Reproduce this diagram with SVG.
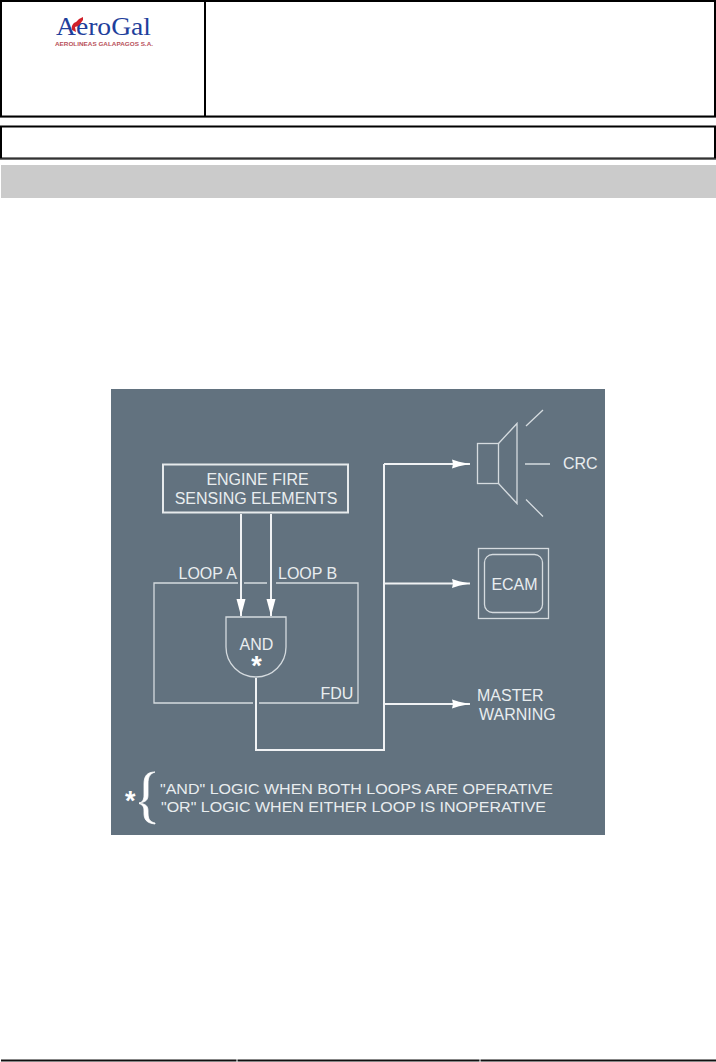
<svg xmlns="http://www.w3.org/2000/svg" width="716" height="1062" viewBox="0 0 716 1062">
<style>
.hdr{fill:none;stroke:#000;stroke-width:2}
.t{font-family:"Liberation Sans",Arial,sans-serif;fill:#e9edef;font-size:16px}
.s{font-family:"Liberation Sans",Arial,sans-serif;fill:#fff;font-weight:bold;font-size:27px}
.b{fill:none;stroke:#d5dbdf;stroke-width:1.300}
.c{fill:none;stroke:#f0f2f4;stroke-width:2}
</style>
<defs>
<marker id="a" markerUnits="userSpaceOnUse" markerWidth="19" markerHeight="10" refX="18" refY="5" orient="auto"><path d="M0 .5L7 2.800L18 5L7 7.200L0 9.500L1 5Z" fill="#fff"/></marker>
<marker id="d" markerUnits="userSpaceOnUse" markerWidth="18" markerHeight="10" refX="17" refY="5" orient="auto"><path d="M0 .5L17 5L0 9.500Z" fill="#fff"/></marker>
</defs>
<rect width="716" height="1062" fill="#fff"/>
<g id="header">
<rect class="hdr" x="1" y="1" width="714" height="115.500"/>
<line x1="205" y1="1" x2="205" y2="117" stroke="#000" stroke-width="2"/>
<line x1="0" y1="117.500" x2="716" y2="117.500" stroke="#666" stroke-width="1"/>
<rect class="hdr" x="1" y="126.500" width="714" height="32"/>
<line x1="0" y1="159" x2="716" y2="159" stroke="#666" stroke-width="1"/>
<rect x="1" y="165" width="715" height="33" fill="#cbcbcb"/>
</g>
<g id="logo">
<text x="56" y="34.500" font-family="Liberation Serif,serif" font-size="26" fill="#1f3f9c" textLength="95" lengthAdjust="spacingAndGlyphs">AeroGal</text>
<path d="M72 30C71 26 73 23 76 22L79 19L83 17L83 20L80 24L78 26L75 27L76 32Z" fill="#d0202a"/>
<text x="55" y="45.500" font-family="Liberation Sans,sans-serif" font-weight="bold" font-size="5.800" fill="#b8505a" textLength="98" lengthAdjust="spacingAndGlyphs">AEROLINEAS GALAPAGOS S.A.</text>
</g>
<rect x="111" y="389" width="494" height="446" fill="#62727f"/>
<g id="connectors">
<line class="c" x1="241" y1="514" x2="241" y2="616" marker-end="url(#d)"/>
<line class="c" x1="271" y1="514" x2="271" y2="616" marker-end="url(#d)"/>
<path class="c" d="M256 678V750H384V464" />
<line class="c" x1="384" y1="464" x2="470" y2="464" stroke-width="2.500" marker-end="url(#a)"/>
<line class="c" x1="384" y1="583.500" x2="470" y2="583.500" stroke-width="1.500" marker-end="url(#a)"/>
<line class="c" x1="384" y1="704" x2="470" y2="704" stroke-width="1.500" marker-end="url(#a)"/>
</g>
<g id="sensing">
<rect x="163" y="464.500" width="185" height="48" fill="#62727f" stroke="#e6eaec" stroke-width="2"/>
<text class="t" x="257.500" y="485" text-anchor="middle">ENGINE FIRE</text>
<text class="t" x="256" y="503.500" text-anchor="middle">SENSING ELEMENTS</text>
</g>
<g id="fdu">
<path class="b" d="M238 583H154V703H253M259 703H358V583H276M267 583H244"/>
<text class="t" x="178.500" y="579">LOOP A</text>
<text class="t" x="278" y="579">LOOP B</text>
<text class="t" x="320.500" y="699">FDU</text>
</g>
<g id="and">
<path class="b" d="M226 617H286V647A30 30 0 0 1 226 647Z"/>
<text class="t" x="256.500" y="650" text-anchor="middle">AND</text>
<text class="s" x="256.500" y="675" text-anchor="middle">*</text>
</g>
<g id="crc">
<rect class="b" x="477.500" y="443.500" width="21" height="40"/>
<path class="b" d="M498.500 443.500L517 423.500V503.500L498.500 483.500M526 426L543 410M525 464H550M526 499.500L543 516.500"/>
<text class="t" x="563" y="469">CRC</text>
</g>
<g id="ecam">
<rect class="b" x="478.500" y="548.500" width="70" height="70"/>
<rect class="b" x="484.500" y="554.500" width="58" height="58" rx="8"/>
<text class="t" x="514.500" y="590" text-anchor="middle">ECAM</text>
</g>
<g id="master">
<text class="t" x="477" y="701">MASTER</text>
<text class="t" x="479" y="720">WARNING</text>
</g>
<g id="note">
<text class="s" x="125" y="810">*</text>
<path d="M155 772C149 774 148 778 148 784V795C148 800 146 802 139 803C146 804 148 806 148 811V813C148 819 150 822 155 823L155 824C146 823 144 819 144 813V811C144 807 143 805 139 803.500C143 802 144 799 144 795V784C144 776 147 772 155 772Z" fill="#fff" stroke="#fff" stroke-width=".8"/>
<text class="t" x="160" y="793.500" style="font-size:15px" textLength="393" lengthAdjust="spacingAndGlyphs">"AND" LOGIC WHEN BOTH LOOPS ARE OPERATIVE</text>
<text class="t" x="161" y="812" style="font-size:15px" textLength="385" lengthAdjust="spacingAndGlyphs">"OR" LOGIC WHEN EITHER LOOP IS INOPERATIVE</text>
</g>
<g id="footer">
<path d="M1 1060.500H236.500M237.500 1060.500H479.500M480.500 1060.500H716" stroke="#111" stroke-width="2" fill="none"/>
</g>
</svg>
